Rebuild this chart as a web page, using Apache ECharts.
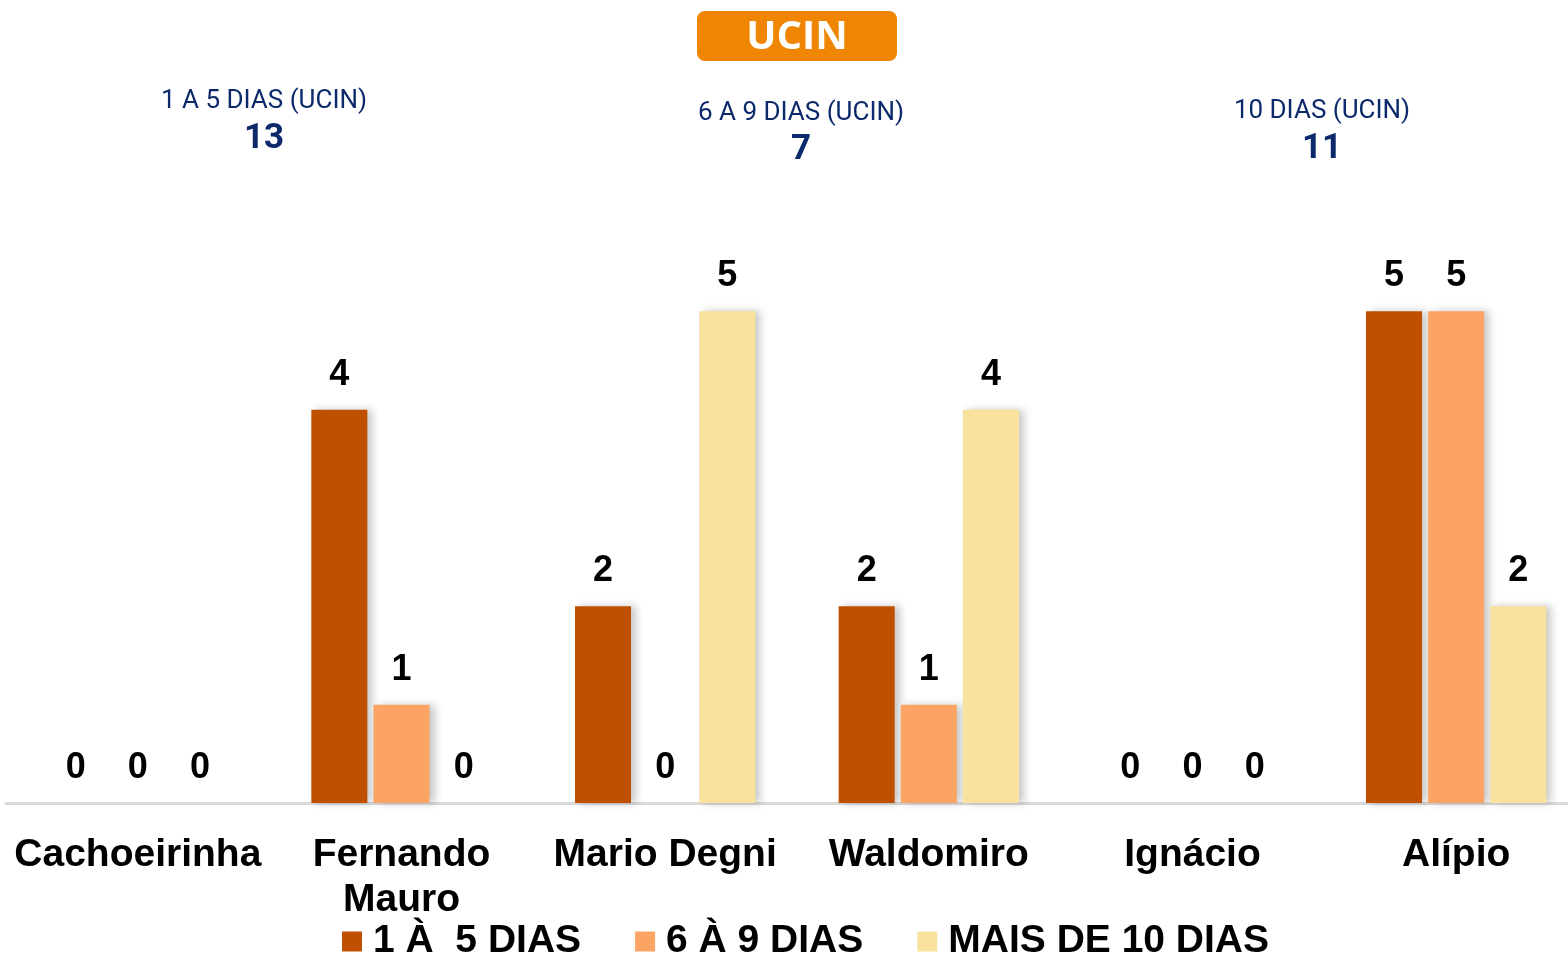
<!DOCTYPE html>
<html style="height: 100%">

<head>
    <meta charset="utf-8">
</head>

<body style="height: 100%; margin: 0; background: #fff">
    <div id="container" style="height: 100%"></div>
    <script type="text/javascript" src="https://cdn.jsdelivr.net/npm/echarts@6.0.0/dist/echarts.min.js"></script>
    <script type="text/javascript">
        // dados do gráfico
        var unidades = ['Cachoeirinha', 'Fernando Mauro', 'Mario Degni', 'Waldomiro', 'Ignácio', 'Alípio'];
        var series1a5 = [0, 4, 2, 2, 0, 5];
        var series6a9 = [0, 1, 0, 1, 0, 5];
        var seriesMais10 = [0, 0, 5, 4, 0, 2];
        var nomesSeries = ['1 À  5 DIAS', '6 À 9 DIAS', 'MAIS DE 10 DIAS'];
        var coresSeries = ['#bf5000', '#fca463', '#f9e29d'];
        // resumo no topo
        var resumoTitulos = ['1 A 5 DIAS (UCIN)', '6 A 9 DIAS (UCIN)', '10 DIAS (UCIN)'];
        var resumoValores = ['13', '7', '11'];

        var dom = document.getElementById("container");
        var myChart = echarts.init(dom);
        var option = null;

        var fonteBold = '"Liberation Sans", Arial, sans-serif';
        var navy = '#0c2a6b';

        var barLabel = {
            show: true,
            position: 'top',
            distance: 17,
            color: '#000',
            fontSize: 36,
            fontWeight: 'bold',
            fontFamily: fonteBold
        };

        var barShadow = {
            shadowColor: 'rgba(0,0,0,0.22)',
            shadowBlur: 8,
            shadowOffsetX: 5
        };

        var dados = [series1a5, series6a9, seriesMais10];
        var series = dados.map(function (d, i) {
            return {
                name: nomesSeries[i],
                type: 'bar',
                data: d,
                barWidth: 56,
                barGap: '11%',
                itemStyle: Object.assign({ color: coresSeries[i] }, barShadow),
                label: barLabel,
                emphasis: { disabled: true }
            };
        });

        // posições do resumo (x centro, y titulo, y valor)
        var resumoPos = [[264, 101, 139], [801, 113, 150], [1322, 111, 149]];
        var graficos = [{
            type: 'rect',
            shape: { x: 697, y: 11, width: 200, height: 50, r: 8 },
            style: { fill: '#ef8500' }
        }, {
            type: 'text',
            x: 797, y: 38,
            style: {
                text: 'UCIN', fill: '#fff', fontSize: 40, fontWeight: 'bold',
                fontFamily: '"Open Sans", "Noto Sans", sans-serif',
                align: 'center', verticalAlign: 'middle'
            }
        }];
        resumoTitulos.forEach(function (t, i) {
            var p = resumoPos[i];
            graficos.push({
                type: 'text', x: p[0], y: p[1],
                style: {
                    text: t, fill: navy, fontSize: 26,
                    fontFamily: 'Roboto, sans-serif',
                    align: 'center', verticalAlign: 'middle'
                }
            });
            graficos.push({
                type: 'text', x: p[0], y: p[2],
                style: {
                    text: resumoValores[i], fill: navy, fontSize: 35, fontWeight: 'bold',
                    fontFamily: 'Roboto, sans-serif',
                    align: 'center', verticalAlign: 'middle'
                }
            });
        });

        option = {
            backgroundColor: '#fff',
            animation: false,
            graphic: graficos,
            legend: {
                data: nomesSeries,
                icon: 'rect',
                left: 337,
                top: 917,
                itemWidth: 20,
                itemHeight: 20,
                itemGap: 54,
                textStyle: {
                    color: '#000',
                    fontSize: 39,
                    fontWeight: 'bold',
                    fontFamily: fonteBold,
                    padding: [0, 0, 0, 6]
                }
            },
            grid: {
                left: 6,
                width: 1582,
                top: 213,
                bottom: 150,
                outerBoundsMode: 'none'
            },
            xAxis: {
                type: 'category',
                data: unidades,
                axisLine: { lineStyle: { color: '#d9d9d9', width: 3 } },
                axisTick: { show: false },
                axisLabel: {
                    color: '#000',
                    fontSize: 39,
                    fontWeight: 'bold',
                    fontFamily: fonteBold,
                    lineHeight: 45,
                    margin: 30,
                    interval: 0,
                    formatter: function (v) { return v.replace('Fernando ', 'Fernando\n'); }
                }
            },
            yAxis: {
                type: 'value',
                min: 0,
                max: 6,
                show: false,
                splitLine: { show: false }
            },
            series: series
        };

        if (option && typeof option === "object") {
            myChart.setOption(option, true);
        }
    </script>
</body>

</html>
